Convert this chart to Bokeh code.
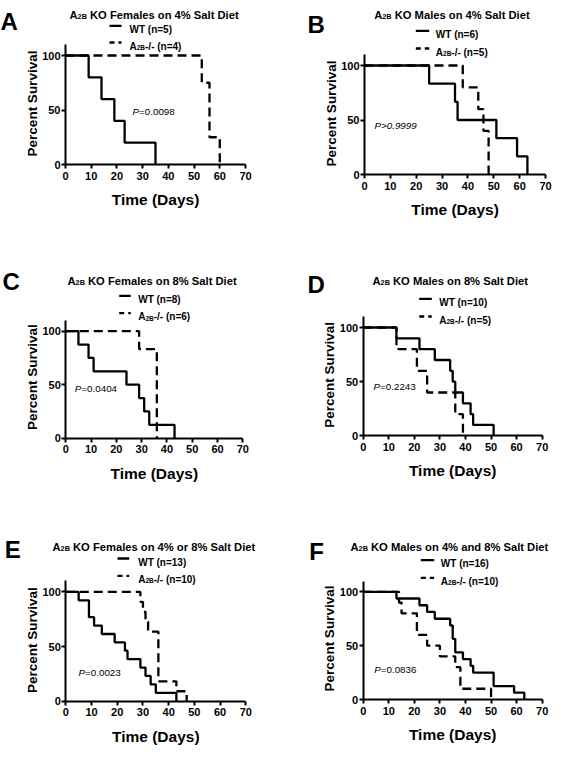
import math
from bokeh.plotting import figure
from bokeh.models import Range1d, Label, FixedTicker, LinearAxis
from bokeh.layouts import row, column
from bokeh.embed import file_html
from bokeh.resources import INLINE

# ---------------- data ----------------
x_ticks = [0, 10, 20, 30, 40, 50, 60, 70]
y_ticks = [0, 50, 100]
y_axis_top = 110
x_label = "Time (Days)"
y_label = "Percent Survival"

panel_letters = ["A", "B", "C", "D", "E", "F"]
title_head = "A"
title_sub = "2B"
panel_titles = ["KO Females on 4% Salt Diet",
                "KO Males on 4% Salt Diet",
                "KO Females on 8% Salt Diet",
                "KO Males on 8% Salt Diet",
                "KO Females on 4% or 8% Salt Diet",
                "KO Males on 4% and 8% Salt Diet"]
wt_labels = ["WT (n=5)", "WT (n=6)", "WT (n=8)", "WT (n=10)", "WT (n=13)", "WT (n=16)"]
ko_labels = ["-/- (n=4)", "-/- (n=5)", "-/- (n=6)", "-/- (n=5)", "-/- (n=10)", "-/- (n=10)"]
p_values = ["=0.0098", ">0.9999", "=0.0404", "=0.2243", "=0.0023", "=0.0836"]

A_wt_days = [0, 9, 14, 19, 23, 35]
A_wt_surv = [100, 80, 60, 40, 20, 0]
A_ko_days = [0, 53, 56, 60]
A_ko_surv = [100, 75, 25, 0]

B_wt_days = [0, 25, 35, 36, 51, 59, 63]
B_wt_surv = [100, 83.3, 66.7, 50, 33.3, 16.7, 0]
B_ko_days = [0, 38, 44, 46, 48]
B_ko_surv = [100, 80, 60, 40, 0]

C_wt_days = [0, 5, 9, 11, 24, 29, 31, 33, 43]
C_wt_surv = [100, 87.5, 75, 62.5, 50, 37.5, 25, 12.5, 0]
C_ko_days = [0, 29, 36]
C_ko_surv = [100, 83.3, 0]

D_wt_days = [0, 13, 22, 28, 34, 35, 36, 39, 42, 43, 51]
D_wt_surv = [100, 90, 80, 70, 60, 50, 40, 30, 20, 10, 0]
D_ko_days = [0, 13, 21, 25, 36, 39]
D_ko_surv = [100, 80, 60, 40, 20, 0]

E_wt_days = [0, 5, 9, 11, 14, 19, 23, 24, 29, 31, 33, 35, 43]
E_wt_surv = [100, 92.3, 76.9, 69.2, 61.5, 53.8, 46.2, 38.5, 30.8, 23.1, 15.4, 7.7, 0]
E_ko_days = [0, 29, 30, 31, 32, 36, 43, 47]
E_ko_surv = [100, 90.9, 81.8, 72.7, 63.6, 18.2, 9.1, 0]

F_wt_days = [0, 13, 22, 25, 28, 34, 35, 36, 39, 42, 43, 51, 59, 63]
F_wt_surv = [100, 93.8, 87.5, 81.3, 75, 68.8, 56.3, 43.8, 37.5, 31.3, 25, 12.5, 6.3, 0]
F_ko_days = [0, 14, 15, 21, 25, 30, 36, 38, 50]
F_ko_surv = [100, 90, 80, 60, 50, 40, 30, 10, 0]

series = [
    (A_wt_days, A_wt_surv, A_ko_days, A_ko_surv),
    (B_wt_days, B_wt_surv, B_ko_days, B_ko_surv),
    (C_wt_days, C_wt_surv, C_ko_days, C_ko_surv),
    (D_wt_days, D_wt_surv, D_ko_days, D_ko_surv),
    (E_wt_days, E_wt_surv, E_ko_days, E_ko_surv),
    (F_wt_days, F_wt_surv, F_ko_days, F_ko_surv),
]

# ---------------- layout (reference pixel geometry) ----------------
FONT = "Liberation Sans"
COL_W = 277
ROW_H = [222, 268, 256]
ROW_SHIFT = [2, 231, 507]
COL_SHIFT = [3, 290]

geom = [
    dict(r=0, c=0, FL=68, FB=166, W=180, P100=109, letter=(3, 22.7), title=(72, 16),
         samp=(112, 124), rows=(27.3, 44), tx=132, pv=(135, 113)),
    dict(r=0, c=1, FL=377, FB=176, W=181, P100=109, letter=(320, 26), title=(386.7, 16),
         samp=(428.3, 441.7), rows=(32.3, 50), tx=448.3, pv=(387, 126.7)),
    dict(r=1, c=0, FL=68.3, FB=446.7, W=177, P100=107, letter=(5, 290), title=(70, 289.3),
         samp=(121.7, 133.3), rows=(304.3, 321.7), tx=140.7, pv=(77.3, 396.7)),
    dict(r=1, c=1, FL=375.7, FB=444.3, W=179, P100=108.3, letter=(320, 292.7), title=(385, 289.3),
         samp=(431.7, 444.3), rows=(307.3, 325), tx=451.7, pv=(386, 395)),
    dict(r=2, c=0, FL=68.3, FB=717.7, W=180, P100=109.3, letter=(7.3, 566), title=(55, 563.3),
         samp=(120, 131.7), rows=(575, 592.3), tx=140.7, pv=(81, 689.3)),
    dict(r=2, c=1, FL=375.7, FB=716, W=179, P100=107.7, letter=(321.7, 568.3), title=(363, 563.3),
         samp=(433.3, 446.7), rows=(576.7, 594.3), tx=453.3, pv=(386.7, 685.7)),
]


def make_panel(i):
    g = geom[i]
    wt_d, wt_s, ko_d, ko_s = series[i]
    H = ROW_H[g["r"]]
    W = g["W"]
    xmax = x_ticks[-1]
    ox = g["FL"] - COL_SHIFT[g["c"]]   # px of x=0 from figure left
    oy = g["FB"] - ROW_SHIFT[g["r"]]   # px of y=0 from figure top
    kx = xmax / W
    ky = 100.0 / g["P100"]

    def X(rx):
        return (rx - g["FL"]) * kx

    def Y(ry):
        return (g["FB"] - ry) * ky

    p = figure(width=COL_W, height=H, output_backend="svg", toolbar_location=None,
               title=None, x_axis_location=None, y_axis_location=None,
               x_range=Range1d(-ox * kx, (COL_W - ox) * kx),
               y_range=Range1d((oy - H) * ky, oy * ky),
               min_border_left=0, min_border_right=0,
               min_border_top=0, min_border_bottom=0)
    p.outline_line_color = None
    p.background_fill_color = "white"
    p.border_fill_color = "white"
    p.xgrid.visible = False
    p.ygrid.visible = False

    xaxis = LinearAxis(fixed_location=0, ticker=FixedTicker(ticks=x_ticks),
                       bounds=(x_ticks[0], x_ticks[-1]))
    yaxis = LinearAxis(fixed_location=0, ticker=FixedTicker(ticks=y_ticks),
                       bounds=(0, y_axis_top))
    for ax in (xaxis, yaxis):
        ax.axis_line_width = 2
        ax.axis_line_color = "black"
        ax.major_tick_line_width = 2
        ax.major_tick_line_color = "black"
        ax.major_tick_out = 4
        ax.major_tick_in = 0
        ax.minor_tick_line_color = None
        ax.major_label_text_font = FONT
        ax.major_label_text_font_style = "bold"
        ax.major_label_text_color = "black"
        ax.major_label_text_font_size = "11px"
    xaxis.major_label_standoff = 3
    yaxis.major_label_standoff = 1
    p.add_layout(xaxis, "below")
    p.add_layout(yaxis, "left")

    # survival curves
    p.step(ko_d, ko_s, mode="after", line_color="black", line_width=2.3, line_dash="9 5")
    p.step(wt_d, wt_s, mode="after", line_color="black", line_width=2.3)

    # legend samples
    s0, s1 = g["samp"]
    r1, r2 = g["rows"]
    p.line([X(s0), X(s1)], [Y(r1), Y(r1)], line_color="black", line_width=2.3)
    p.line([X(s0), X(s1)], [Y(r2), Y(r2)], line_color="black", line_width=2.3, line_dash="5 4")

    def lab(text, rx, ry, size, style="bold", align="left", baseline="alphabetic", angle=0.0):
        p.add_layout(Label(x=X(rx), y=Y(ry), text=text, text_font=FONT,
                           text_font_size=f"{size}px", text_font_style=style,
                           text_align=align, text_baseline=baseline,
                           text_color="black", angle=angle))

    # panel letter
    lx, ly = g["letter"]
    lab(panel_letters[i], lx, ly, 24)

    # title with subscript
    tx0, ty0 = g["title"]
    fs = 11.2
    sub = 7.3
    lab(title_head, tx0, ty0, fs)
    lab(title_sub, tx0 + 0.722 * fs, ty0 + 1.5, sub)
    lab(panel_titles[i], tx0 + 0.722 * fs + 1.278 * sub + 0.278 * fs, ty0, fs)

    # legend texts
    lf = 10
    lsub = 6.5
    lab(wt_labels[i], g["tx"], r1 + 3.5, lf)
    lab(title_head, g["tx"], r2 + 3.5, lf)
    lab(title_sub, g["tx"] + 0.722 * lf, r2 + 5.0, lsub)
    lab(ko_labels[i], g["tx"] + 0.722 * lf + 1.278 * lsub, r2 + 3.5, lf)

    # p-value
    px0, py0 = g["pv"]
    pf = 9.8
    if p_values[i].startswith(">"):
        lab("P" + p_values[i], px0, py0, pf, style="italic", baseline="middle")
    else:
        lab("P", px0, py0, pf, style="italic", baseline="middle")
        lab(p_values[i], px0 + 0.667 * pf, py0, pf, style="normal", baseline="middle")

    # axis titles
    lab(x_label, g["FL"] + W / 2.0, g["FB"] + 35, 15.5, align="center")
    lab(y_label, g["FL"] - 33.5, g["FB"] - 61, 13.5, align="center", baseline="middle",
        angle=math.pi / 2)
    return p


panels = [make_panel(i) for i in range(6)]
layout = column(row(panels[0], panels[1]), row(panels[2], panels[3]), row(panels[4], panels[5]))

open("out.html", "w").write(file_html(layout, INLINE))
